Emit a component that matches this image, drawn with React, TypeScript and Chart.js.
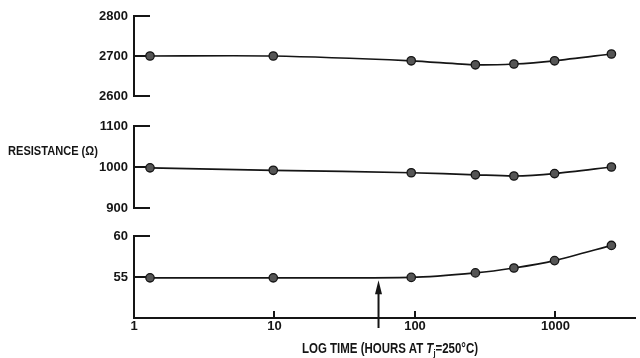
import React, { useEffect, useRef } from "react";
import { Chart, registerables } from "chart.js";
Chart.register(...registerables);

// Data
const hours = [1.3, 9.8, 94, 269, 506, 985, 2500];
const r2700 = [2700, 2700, 2688, 2678, 2680, 2688, 2705];
const r1000 = [998, 992, 986, 981, 978, 984, 1000];
const r55 = [54.9, 54.9, 54.95, 55.5, 56.1, 57.0, 58.85];
const xTickValues = [1, 10, 100, 1000];
const ticksTop = [2600, 2700, 2800];
const ticksMid = [900, 1000, 1100];
const ticksBot = [55, 60];
const xMin = 1;
const xMax = 3650;
const arrowTime = 55;
const arrowTipValue = 54.6;

const FONT = '"Liberation Sans", Arial, sans-serif';
const INK = "#151515";

type PanelProps = {
  values: number[];
  yMin: number;
  yMax: number;
  yTicks: number[];
  height: number;
  padTop: number;
  padBottom: number;
  showX: boolean;
  arrow?: boolean;
};

function Panel({ values, yMin, yMax, yTicks, height, padTop, padBottom, showX, arrow }: PanelProps) {
  const ref = useRef<HTMLCanvasElement | null>(null);
  useEffect(() => {
    if (!ref.current) return;
    const arrowPlugin = {
      id: "arrowPlugin",
      afterDatasetsDraw(chart: any) {
        if (!arrow) return;
        const ctx = chart.ctx;
        const x = chart.scales.x.getPixelForValue(arrowTime);
        const tip = chart.scales.y.getPixelForValue(arrowTipValue);
        const base = chart.chartArea.bottom + 10;
        ctx.save();
        ctx.strokeStyle = INK;
        ctx.fillStyle = INK;
        ctx.lineWidth = 2;
        ctx.beginPath();
        ctx.moveTo(x, base);
        ctx.lineTo(x, tip + 10);
        ctx.stroke();
        ctx.beginPath();
        ctx.moveTo(x, tip);
        ctx.lineTo(x - 3.5, tip + 14);
        ctx.lineTo(x + 3.5, tip + 14);
        ctx.closePath();
        ctx.fill();
        ctx.restore();
      },
    };
    const chart = new Chart(ref.current, {
      type: "line",
      data: {
        labels: hours,
        datasets: [
          {
            data: hours.map((h, i) => ({ x: h, y: values[i] })),
            borderColor: INK,
            borderWidth: 1.7,
            backgroundColor: "#555555",
            pointBackgroundColor: "#555555",
            pointBorderColor: INK,
            pointBorderWidth: 1.3,
            pointRadius: 4.2,
            tension: 0.25,
            fill: false,
          },
        ],
      },
      options: {
        animation: false,
        responsive: false,
        events: [],
        layout: { padding: { top: padTop, bottom: padBottom, left: 0, right: 0 } },
        plugins: { legend: { display: false }, tooltip: { enabled: false }, title: { display: false } },
        scales: {
          x: {
            type: "logarithmic",
            min: xMin,
            max: xMax,
            display: showX,
            afterBuildTicks: (s: any) => {
              s.ticks = xTickValues.map((v) => ({ value: v }));
            },
            afterFit: (s: any) => {
              if (showX) s.height = 40;
              s.paddingLeft = 0;
              s.paddingRight = 0;
            },
            border: { display: true, color: INK, width: 2 },
            grid: { display: true, drawOnChartArea: false, drawTicks: true, tickLength: -7, color: INK, lineWidth: 2 },
            ticks: {
              autoSkip: false,
              maxRotation: 0,
              padding: 8,
              color: INK,
              font: { family: FONT, size: 13, weight: "bold" },
              callback: (v: any) => String(v),
            },
          },
          y: {
            type: "linear",
            min: yMin,
            max: yMax,
            afterBuildTicks: (s: any) => {
              s.ticks = yTicks.map((v) => ({ value: v }));
            },
            afterFit: (s: any) => {
              s.width = 134;
              s.paddingTop = 0;
              s.paddingBottom = 0;
            },
            border: { display: true, color: INK, width: 2 },
            grid: { display: true, drawOnChartArea: false, drawTicks: true, tickLength: -16, color: INK, lineWidth: 2 },
            ticks: {
              autoSkip: false,
              padding: 22,
              color: INK,
              font: { family: FONT, size: 13, weight: "bold" },
              callback: (v: any) => String(v),
            },
          },
        },
      },
      plugins: [arrowPlugin],
    } as any);
    return () => chart.destroy();
  }, []);
  return <canvas ref={ref} width={640} height={height} style={{ display: "block" }} />;
}

const labelStyle: React.CSSProperties = {
  position: "absolute",
  fontFamily: FONT,
  fontWeight: "bold",
  lineHeight: 1,
  color: INK,
  whiteSpace: "nowrap",
  transformOrigin: "0 0",
  transform: "scaleX(0.82)",
};

export default function App() {
  return (
    <div style={{ position: "fixed", left: 0, top: 0, width: 640, height: 358, background: "#fff", overflow: "hidden" }}>
      <div style={{ position: "absolute", left: 0, top: 0 }}>
        <Panel values={r2700} yMin={2600} yMax={2800} yTicks={ticksTop} height={110} padTop={16} padBottom={14} showX={false} />
      </div>
      <div style={{ position: "absolute", left: 0, top: 110 }}>
        <Panel values={r1000} yMin={900} yMax={1100} yTicks={ticksMid} height={110} padTop={16} padBottom={12} showX={false} />
      </div>
      <div style={{ position: "absolute", left: 0, top: 220 }}>
        <Panel values={r55} yMin={50} yMax={60} yTicks={ticksBot} height={138} padTop={16} padBottom={0} showX={true} arrow />
      </div>
      <div style={{ ...labelStyle, left: 8, top: 144, fontSize: 13.5 }}>RESISTANCE (Ω)</div>
      <div style={{ ...labelStyle, left: 302, top: 341, fontSize: 14 }}>
        LOG TIME (HOURS AT <i>T</i>
        <sub style={{ fontSize: 9, verticalAlign: "-3px" }}>j</sub>=250°C)
      </div>
    </div>
  );
}
